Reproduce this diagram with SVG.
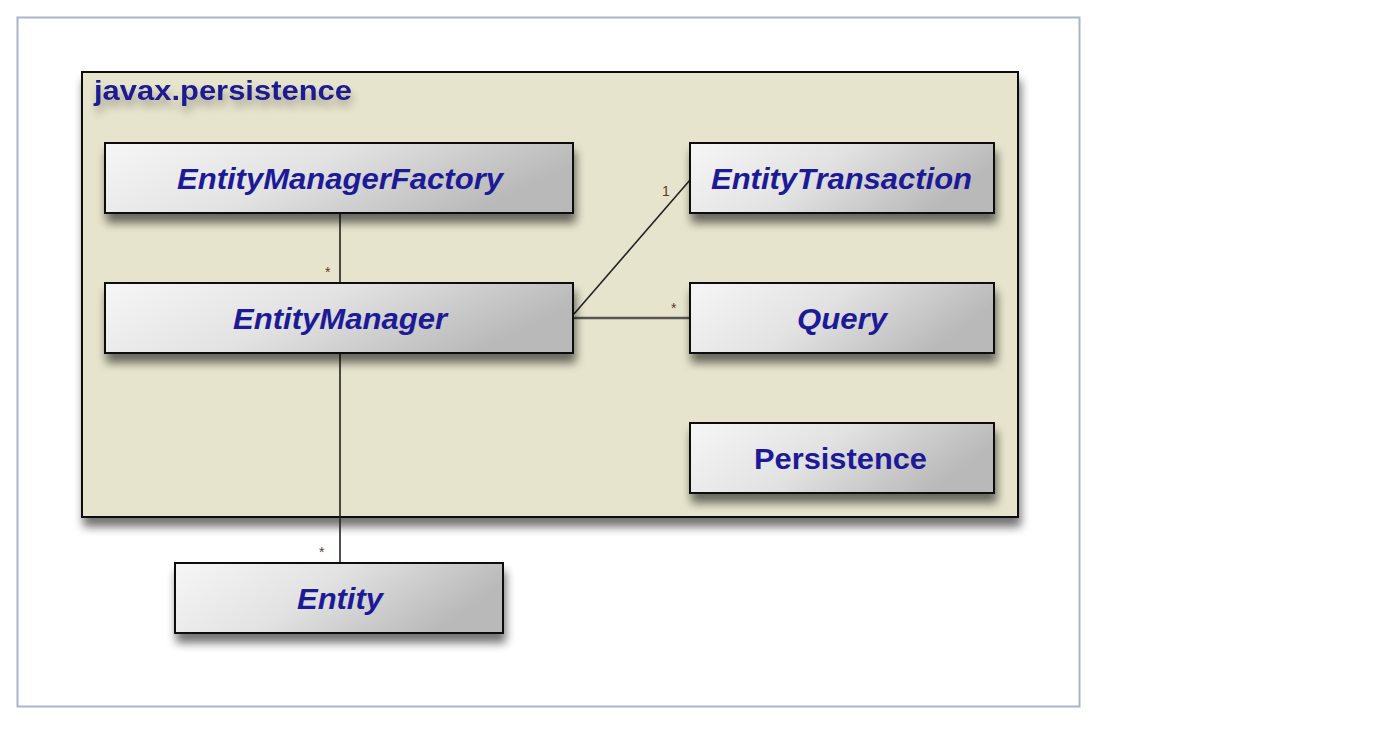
<svg xmlns="http://www.w3.org/2000/svg" width="1400" height="733" viewBox="0 0 1400 733">
<defs>
<linearGradient id="boxg" x1="0" y1="0" x2="1" y2="0.3">
<stop offset="0" stop-color="#f6f6f6"/>
<stop offset="0.5" stop-color="#e2e2e2"/>
<stop offset="1" stop-color="#b9b9b9"/>
</linearGradient>
<filter id="sh" x="-10%" y="-30%" width="120%" height="180%">
<feGaussianBlur in="SourceAlpha" stdDeviation="5"/>
<feOffset dx="2" dy="9" result="b"/>
<feComponentTransfer><feFuncA type="linear" slope="0.55"/></feComponentTransfer>
<feMerge><feMergeNode/><feMergeNode in="SourceGraphic"/></feMerge>
</filter>
<filter id="tsh" x="-10%" y="-50%" width="120%" height="250%">
<feGaussianBlur in="SourceAlpha" stdDeviation="4"/>
<feOffset dx="2" dy="7"/>
<feComponentTransfer><feFuncA type="linear" slope="0.3"/></feComponentTransfer>
<feMerge><feMergeNode/><feMergeNode in="SourceGraphic"/></feMerge>
</filter>
</defs>
<style>
.box{fill:url(#boxg);stroke:#111;stroke-width:2;filter:url(#sh)}
.lbl{font-family:"Liberation Sans",Arial,sans-serif;font-size:29px;font-weight:bold;font-style:italic;fill:#1c1a96}
.up{font-style:normal}
.conn{stroke:#222;stroke-width:1.6;fill:none}
.mult{font-family:"Liberation Sans",Arial,sans-serif;font-size:14px;fill:#5a3a1a}
</style>
<rect x="0" y="0" width="1400" height="733" fill="#ffffff"/>
<rect x="17.5" y="17.5" width="1062" height="689" fill="#ffffff" stroke="#aab4cc" stroke-width="2"/>
<g id="package">
<rect x="82" y="72" width="936" height="445" fill="#e6e4cc" stroke="#111" stroke-width="2" filter="url(#sh)"/>
<text x="94" y="100" font-family="'Liberation Sans',Arial,sans-serif" font-size="28" font-weight="bold" fill="#1c1a90" filter="url(#tsh)" textLength="258" lengthAdjust="spacingAndGlyphs">javax.persistence</text>
</g>
<g id="connectors">
<line class="conn" x1="340" y1="213" x2="340" y2="283"/>
<line class="conn" x1="340" y1="353" x2="340" y2="563"/>
<line class="conn" x1="574" y1="314" x2="690" y2="180"/>
<line x1="574" y1="318" x2="690" y2="318" stroke="#555" stroke-width="2.5"/>
<text class="mult" x="325" y="277">*</text>
<text class="mult" x="319" y="557">*</text>
<text class="mult" x="662" y="196">1</text>
<text class="mult" x="671" y="313">*</text>
</g>
<g id="EntityManagerFactory">
<rect class="box" x="105" y="143" width="468" height="70"/>
<text class="lbl" x="177" y="189" textLength="326" lengthAdjust="spacingAndGlyphs">EntityManagerFactory</text>
</g>
<g id="EntityManager">
<rect class="box" x="105" y="283" width="468" height="70"/>
<text class="lbl" x="233" y="329" textLength="214" lengthAdjust="spacingAndGlyphs">EntityManager</text>
</g>
<g id="EntityTransaction">
<rect class="box" x="690" y="143" width="304" height="70"/>
<text class="lbl" x="711" y="189" textLength="261" lengthAdjust="spacingAndGlyphs">EntityTransaction</text>
</g>
<g id="Query">
<rect class="box" x="690" y="283" width="304" height="70"/>
<text class="lbl" x="797" y="329" textLength="90" lengthAdjust="spacingAndGlyphs">Query</text>
</g>
<g id="Persistence">
<rect class="box" x="690" y="423" width="304" height="70"/>
<text class="lbl up" x="754" y="469" textLength="173" lengthAdjust="spacingAndGlyphs">Persistence</text>
</g>
<g id="Entity">
<rect class="box" x="175" y="563" width="328" height="70"/>
<text class="lbl" x="297" y="609" textLength="86" lengthAdjust="spacingAndGlyphs">Entity</text>
</g>
</svg>
